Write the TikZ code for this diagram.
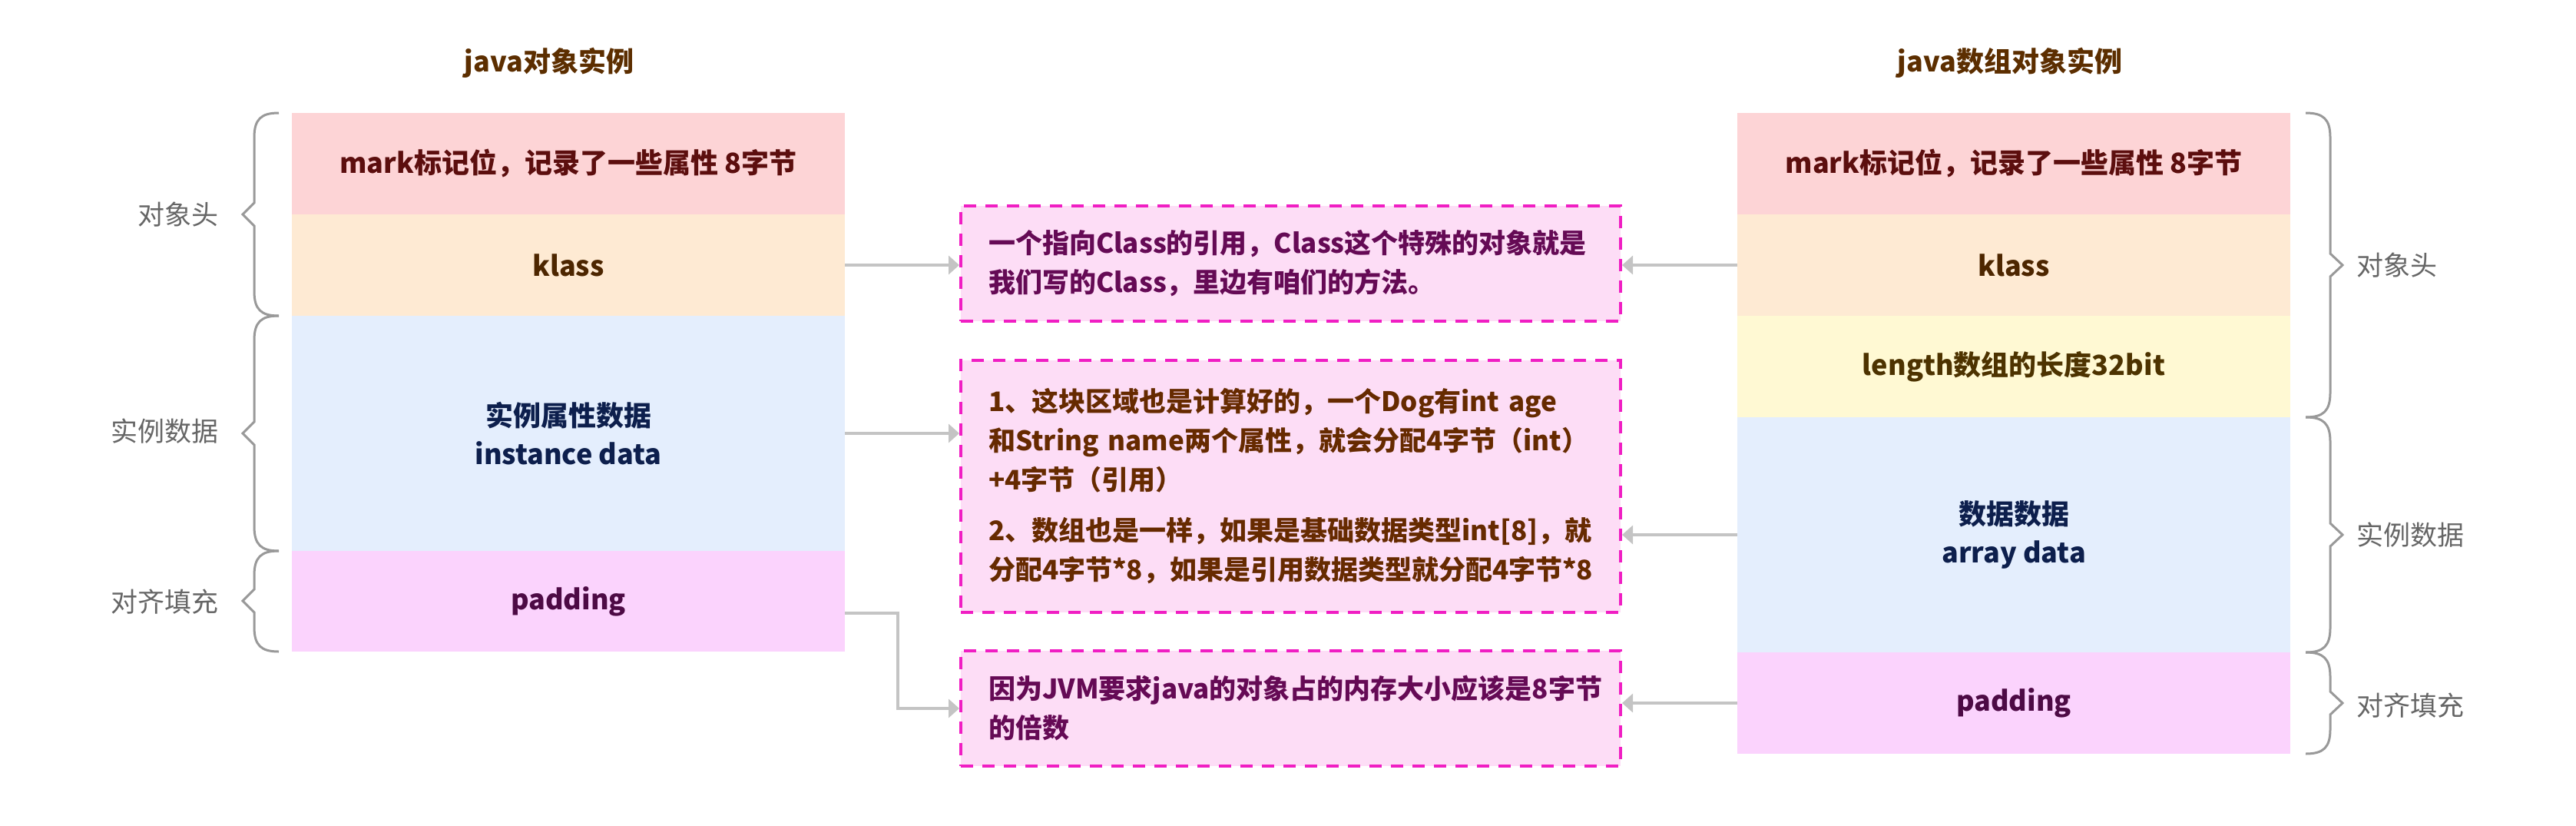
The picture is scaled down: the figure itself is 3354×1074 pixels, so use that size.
\documentclass[tikz,border=0pt]{standalone}
\usepackage{fontspec}
\setmainfont{Noto Sans CJK SC}
\usetikzlibrary{arrows.meta}
\definecolor{markfill}{HTML}{FDD4D6}
\definecolor{klassfill}{HTML}{FEEAD3}
\definecolor{lenfill}{HTML}{FFF9D3}
\definecolor{datafill}{HTML}{E4EEFD}
\definecolor{padfill}{HTML}{FBD3FD}
\definecolor{notefill}{HTML}{FDDDF6}
\definecolor{noteborder}{HTML}{F01EC3}
\definecolor{arrowgray}{HTML}{C4C4C4}
\definecolor{bracegray}{HTML}{999999}
\definecolor{labelgray}{HTML}{666666}
\definecolor{marktext}{HTML}{5C0E0E}
\definecolor{klasstext}{HTML}{4D2600}
\definecolor{lentext}{HTML}{4D3300}
\definecolor{datatext}{HTML}{0D1F4D}
\definecolor{padtext}{HTML}{4D0A45}
\definecolor{notetextA}{HTML}{650A55}
\definecolor{notetextB}{HTML}{662A00}
\definecolor{titletext}{HTML}{5C2E00}
\newcommand\leftbr[3]{%
  \draw[bracestyle] (363,#1) .. controls (340,#1) and (331,#1+8) .. (331,#1+32)
    -- (331,#2-15) -- (316,#2) -- (331,#2+15) -- (331,#3-32)
    .. controls (331,#3-8) and (340,#3) .. (363,#3);}
\newcommand\rightbr[3]{%
  \draw[bracestyle] (3002,#1) .. controls (3025,#1) and (3034,#1+8) .. (3034,#1+32)
    -- (3034,#2-15) -- (3050,#2) -- (3034,#2+15) -- (3034,#3-32)
    .. controls (3034,#3-8) and (3025,#3) .. (3002,#3);}
\begin{document}
\begin{tikzpicture}[x=1pt,y=-1pt,
  cell/.style={rectangle, inner sep=0pt, outer sep=0pt, minimum width=720,
    align=center, font=\fontsize{36}{50}\selectfont\bfseries},
  note/.style={rectangle, fill=notefill, draw=noteborder, line width=4pt,
    dash pattern=on 16pt off 12pt, minimum width=859, text width=787,
    inner xsep=36pt, inner ysep=0pt, align=left,
    font=\fontsize{35}{51}\selectfont\bfseries},
  lbl/.style={text=labelgray, inner sep=0pt, font=\fontsize{35}{42}\selectfont},
  titlestyle/.style={text=titletext, inner sep=0pt, font=\fontsize{36}{44}\selectfont\bfseries},
  conn/.style={draw=arrowgray, line width=4pt, -{Triangle[length=14pt,width=24pt]}},
  bracestyle/.style={draw=bracegray, line width=3pt}]
\useasboundingbox (0,0) rectangle (3354,1074);
% titles
\node[titlestyle] (ltitle) at (715,82) {java对象实例};
\node[titlestyle] (rtitle) at (2617,82) {java数组对象实例};
% left column
\node[cell, fill=markfill, text=marktext, minimum height=132] (lmark) at (740,213) {mark标记位，记录了一些属性 8字节};
\node[cell, fill=klassfill, text=klasstext, minimum height=132] (lklass) at (740,345) {klass};
\node[cell, fill=datafill, text=datatext, minimum height=306] (linst) at (740,564) {实例属性数据\\instance data};
\node[cell, fill=padfill, text=padtext, minimum height=131] (lpad) at (740,782.5) {padding};
% right column
\node[cell, fill=markfill, text=marktext, minimum height=132] (rmark) at (2622,213) {mark标记位，记录了一些属性 8字节};
\node[cell, fill=klassfill, text=klasstext, minimum height=132] (rklass) at (2622,345) {klass};
\node[cell, fill=lenfill, text=lentext, minimum height=132] (rlen) at (2622,477) {length数组的长度32bit};
\node[cell, fill=datafill, text=datatext, minimum height=306] (rarr) at (2622,696) {数据数据\\array data};
\node[cell, fill=padfill, text=padtext, minimum height=132] (rpad) at (2622,915) {padding};
% notes
\node[note, text=notetextA, minimum height=150] (box1) at (1680.5,343)
  {一个指向Class的引用，Class这个特殊的对象就是\\我们写的Class，里边有咱们的方法。};
\node[note, text=notetextB, minimum height=328] (box2) at (1680.5,633)
  {1、这块区域也是计算好的，一个Dog有int age\\和String name两个属性，就会分配4字节（int）\\+4字节（引用）\\[15pt]2、数组也是一样，如果是基础数据类型int[8]，就\\分配4字节*8，如果是引用数据类型就分配4字节*8};
\node[note, text=notetextA, minimum height=150] (box3) at (1680.5,922)
  {因为JVM要求java的对象占的内存大小应该是8字节\\的倍数};
% braces
\leftbr{147}{279}{411}
\leftbr{411}{564}{717}
\leftbr{717}{782}{848}
\rightbr{147}{345}{543}
\rightbr{543}{696}{849}
\rightbr{849}{915}{981}
% labels
\node[lbl, anchor=east] (llab1) at (285,279) {对象头};
\node[lbl, anchor=east] (llab2) at (285,561) {实例数据};
\node[lbl, anchor=east] (llab3) at (285,783) {对齐填充};
\node[lbl, anchor=west] (rlab1) at (3068,345) {对象头};
\node[lbl, anchor=west] (rlab2) at (3068,696) {实例数据};
\node[lbl, anchor=west] (rlab3) at (3068,918) {对齐填充};
% connectors
\draw[conn] (lklass.east) -- (lklass.east -| box1.west);
\draw[conn] (rklass.west) -- (rklass.west -| box1.east);
\draw[conn] (linst.east) -- (linst.east -| box2.west);
\draw[conn] (rarr.west) -- (rarr.west -| box2.east);
\coordinate (elbow) at (1169,798);
\draw[conn] (lpad.east |- elbow) -- (elbow) |- (box3.west);
\draw[conn] (rpad.west) -- (rpad.west -| box3.east);
\end{tikzpicture}
\end{document}
